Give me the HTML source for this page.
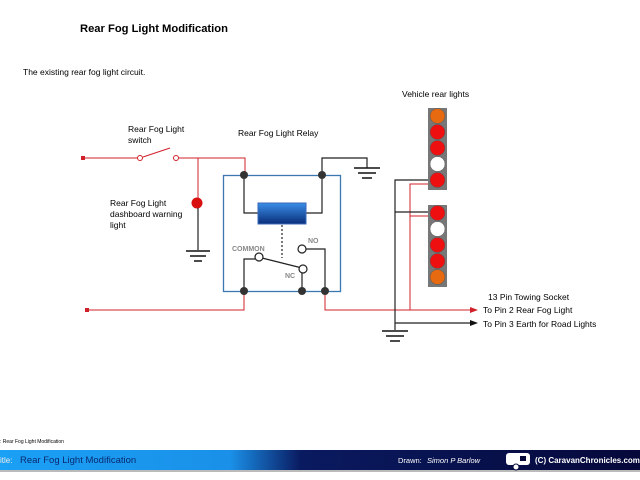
<!DOCTYPE html>
<html><head><style>html,body{margin:0;padding:0;background:#fff}svg{display:block}</style></head>
<body>
<svg width="640" height="480" viewBox="0 0 640 480" xmlns="http://www.w3.org/2000/svg" font-family="Liberation Sans, sans-serif">
<defs>
<linearGradient id="bar" x1="0" x2="1" y1="0" y2="0">
<stop offset="0" stop-color="#1aa0f5"/><stop offset="0.36" stop-color="#1a90e8"/><stop offset="0.47" stop-color="#0a1a60"/><stop offset="1" stop-color="#06083a"/>
</linearGradient>
<linearGradient id="coil" x1="0" x2="0" y1="0" y2="1">
<stop offset="0" stop-color="#3a8ee8"/><stop offset="1" stop-color="#0a2e7a"/>
</linearGradient>
</defs>
<text x="80" y="32" font-size="11.2" font-weight="bold">Rear Fog Light Modification</text>
<text x="23" y="75" font-size="8.5">The existing rear fog light circuit.</text>
<g font-size="8.5">
<text x="128" y="132">Rear Fog Light</text><text x="128" y="143">switch</text>
<text x="238" y="136">Rear Fog Light Relay</text>
<text x="110" y="206">Rear Fog Light</text><text x="110" y="217">dashboard warning</text><text x="110" y="228">light</text>
<text x="402" y="97">Vehicle rear lights</text>
<text x="488" y="300">13 Pin Towing Socket</text>
<text x="483" y="313">To Pin 2 Rear Fog Light</text>
<text x="483" y="327">To Pin 3 Earth for Road Lights</text>
</g>
<g stroke="#d0202a" stroke-width="1" fill="none">
<polyline points="83,158 140,158"/>
<line x1="143" y1="157" x2="170" y2="148"/>
<polyline points="179,158 245,158 245,175"/>
<line x1="198" y1="158" x2="198" y2="202"/>
<polyline points="87,310 244,310 244,291"/>
<polyline points="325,291 325,310 470,310"/>
<polyline points="410,310 410,184 430,184"/>
<polyline points="410,216 430,216"/>
</g>
<rect x="81" y="156" width="4" height="4" fill="#d0202a"/>
<rect x="85" y="308" width="4" height="4" fill="#d0202a"/>
<circle cx="140" cy="158" r="2.5" fill="#fff" stroke="#d0202a"/>
<circle cx="176" cy="158" r="2.5" fill="#fff" stroke="#d0202a"/>
<circle cx="197" cy="203" r="5.5" fill="#d81010"/>
<polygon points="470,307 478,310 470,313" fill="#d0202a"/>
<g stroke="#222" stroke-width="1.2" fill="none">
<line x1="198" y1="208" x2="198" y2="250"/>
<polyline points="244,175 244,213 258,213"/>
<polyline points="306,213 322,213 322,175"/>
<polyline points="322,175 322,158 367,158 367,168"/>
<line x1="282" y1="225" x2="282" y2="258" stroke-dasharray="2,2"/>
<line x1="262" y1="258" x2="302" y2="268"/>
<polyline points="255,259 244,259 244,291"/>
<line x1="302" y1="273" x2="302" y2="291"/>
<polyline points="306,249 325,249 325,291"/>
<polyline points="430,180 395,180 395,330"/>
<line x1="395" y1="212" x2="430" y2="212"/>
<polyline points="395,323 470,323"/>
</g>
<polygon points="470,320 478,323 470,326" fill="#111"/>
<g stroke="#111" stroke-width="1.5">
<line x1="186" y1="251" x2="210" y2="251"/><line x1="190" y1="256" x2="206" y2="256"/><line x1="194" y1="261" x2="202" y2="261"/>
<line x1="354" y1="168" x2="380" y2="168"/><line x1="358" y1="173" x2="376" y2="173"/><line x1="362" y1="178" x2="372" y2="178"/>
<line x1="382" y1="331" x2="408" y2="331"/><line x1="386" y1="336" x2="404" y2="336"/><line x1="390" y1="341" x2="400" y2="341"/>
</g>
<rect x="223.5" y="175.5" width="117" height="116" fill="none" stroke="#3a78b0" stroke-width="1.3"/>
<rect x="258" y="203" width="48" height="21" fill="url(#coil)" stroke="#3a6ab8"/>
<g fill="#333"><circle cx="244" cy="175" r="4"/><circle cx="322" cy="175" r="4"/><circle cx="244" cy="291" r="4"/><circle cx="302" cy="291" r="4"/><circle cx="325" cy="291" r="4"/></g>
<g fill="#fff" stroke="#222" stroke-width="1.2"><circle cx="259" cy="257" r="4"/><circle cx="303" cy="269" r="4"/><circle cx="302" cy="249" r="4"/></g>
<g font-size="7" font-weight="bold" fill="#888"><text x="232" y="251">COMMON</text><text x="308" y="243">NO</text><text x="285" y="278">NC</text></g>
<rect x="428" y="108" width="19" height="82" fill="#777"/>
<rect x="428" y="205" width="19" height="82" fill="#777"/>
<g stroke="#555" stroke-width="0.5">
<circle cx="437.5" cy="116" r="7.5" fill="#e86a10"/><circle cx="437.5" cy="132" r="7.5" fill="#ee1010"/><circle cx="437.5" cy="148" r="7.5" fill="#ee1010"/><circle cx="437.5" cy="164" r="7.5" fill="#fff"/><circle cx="437.5" cy="180" r="7.5" fill="#ee1010"/>
<circle cx="437.5" cy="213" r="7.5" fill="#ee1010"/><circle cx="437.5" cy="229" r="7.5" fill="#fff"/><circle cx="437.5" cy="245" r="7.5" fill="#ee1010"/><circle cx="437.5" cy="261" r="7.5" fill="#ee1010"/><circle cx="437.5" cy="277" r="7.5" fill="#e86a10"/>
</g>
<text x="0" y="443" font-size="5">: Rear Fog Light Modification</text>
<rect x="0" y="450" width="640" height="20" fill="url(#bar)"/>
<rect x="0" y="470" width="640" height="2" fill="#bbb"/>
<text x="0" y="463" font-size="8" fill="#eee">itle:</text>
<text x="20" y="463" font-size="9.5" fill="#0a2a70">Rear Fog Light Modification</text>
<text x="398" y="463" font-size="7.5" fill="#fff">Drawn:</text>
<text x="427" y="463" font-size="7.5" fill="#fff" font-style="italic">Simon P Barlow</text>
<rect x="506" y="453" width="24" height="12" rx="3" fill="#fff"/>
<circle cx="516" cy="467" r="3" fill="#fff" stroke="#06083a"/>
<rect x="520" y="456" width="6" height="5" fill="#06083a"/>
<text x="535" y="463" font-size="8" font-weight="bold" fill="#fff">(C) CaravanChronicles.com</text>
</svg>
</body></html>
